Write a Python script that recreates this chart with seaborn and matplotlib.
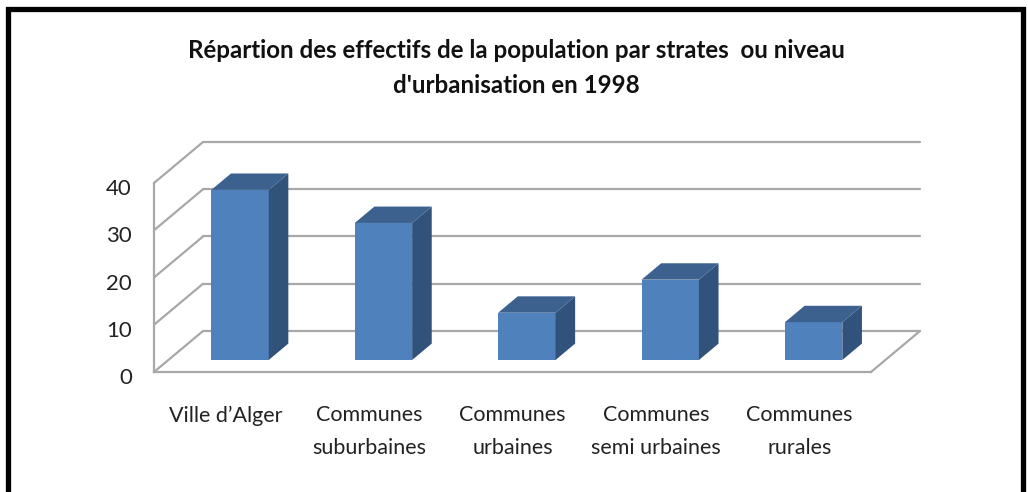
import matplotlib
matplotlib.use('Agg')
import matplotlib.pyplot as plt
from matplotlib.lines import Line2D
from matplotlib.patches import Polygon
from matplotlib.transforms import ScaledTranslation
import pandas as pd
import seaborn as sns

categories = ["Ville d’Alger", "Communes\nsuburbaines", "Communes\nurbaines",
              "Communes\nsemi urbaines", "Communes\nrurales"]
effectifs = [36, 29, 10, 17, 8]
y_ticks = [0, 10, 20, 30, 40]
title = "Répartion des effectifs de la population par strates  ou niveau\nd'urbanisation en 1998"

W, H = 1028, 492
GRID = '#a8a8a8'
LW = 1.6
FRONT, SIDE, TOP = '#4f81bd', '#31527b', '#3c618f'

sns.set_style('white')
plt.rcParams['font.family'] = ['Lato', 'DejaVu Sans']

fig = plt.figure(figsize=(W / 100, H / 100), dpi=100)
# axes = front plane of the fake 3D box, in pixels of the reference
ax = fig.add_axes([154 / W, 1 - 372 / H, 717 / W, 189 / H])

df = pd.DataFrame({'cat': categories, 'val': effectifs})
sns.barplot(data=df, x='cat', y='val', color=FRONT, saturation=1, width=0.4, ax=ax, zorder=3, linewidth=0)
ax.set_xlim(-0.5, len(categories) - 0.5)
ax.set_ylim(0, 40)

# depth of the box in data units
dx = 49 / 143.4
dy = 41 / 4.725
x0, x1 = ax.get_xlim()

# back wall grid and the diagonals
for v in y_ticks:
    ax.plot([x0 + dx, x1 + dx], [v + dy, v + dy], color=GRID, lw=LW, clip_on=False, zorder=1)
    ax.plot([x0, x0 + dx], [v, v + dy], color=GRID, lw=LW, clip_on=False, zorder=1)
ax.plot([x1, x1 + dx], [0, dy], color=GRID, lw=LW, clip_on=False, zorder=1)

# move bars into the box, then add side and top faces
start, depth = 0.293, 0.4
for bar in ax.patches[:len(categories)]:
    h = bar.get_height()
    bar.set_x(bar.get_x() + start * dx)
    bar.set_y(start * dy)
    bar.set_clip_on(False)
    l, w, b = bar.get_x(), bar.get_width(), bar.get_y()
    ox, oy = depth * dx, depth * dy
    ax.add_patch(Polygon([(l + w, b), (l + w + ox, b + oy), (l + w + ox, b + h + oy), (l + w, b + h)],
                         facecolor=SIDE, edgecolor='none', clip_on=False, zorder=3))
    ax.add_patch(Polygon([(l, b + h), (l + ox, b + h + oy), (l + w + ox, b + h + oy), (l + w, b + h)],
                         facecolor=TOP, edgecolor='none', clip_on=False, zorder=3))

sns.despine(ax=ax, top=True, right=True)
for s in ['left', 'bottom']:
    ax.spines[s].set_color(GRID)
    ax.spines[s].set_linewidth(LW)

ax.set_xlabel('')
ax.set_ylabel('')
ax.set_yticks(y_ticks)
ax.tick_params(axis='y', length=0, pad=16, labelsize=16, labelcolor='#222222')
ax.tick_params(axis='x', length=0, pad=24, labelsize=15.5, labelcolor='#222222')
for t in ax.get_xticklabels():
    t.set_linespacing(1.8)
# y labels sit a little under their ticks in the original
shift = ScaledTranslation(0, -4 / 100, fig.dpi_scale_trans)
for t in ax.get_yticklabels():
    t.set_transform(t.get_transform() + shift)

fig.text(516 / W, 1 - 68 / H, title, ha='center', va='center', fontsize=17.4, fontweight='bold',
         color='#111111', linespacing=1.65)

# thick black frame, open at the bottom
fig.add_artist(Line2D([7.5 / W, 7.5 / W, 1022.5 / W, 1022.5 / W], [0, 1 - 8.5 / H, 1 - 8.5 / H, 0],
                      color='black', lw=3.8, solid_joinstyle='miter'))

plt.savefig('out.png', dpi=100)
plt.close()
